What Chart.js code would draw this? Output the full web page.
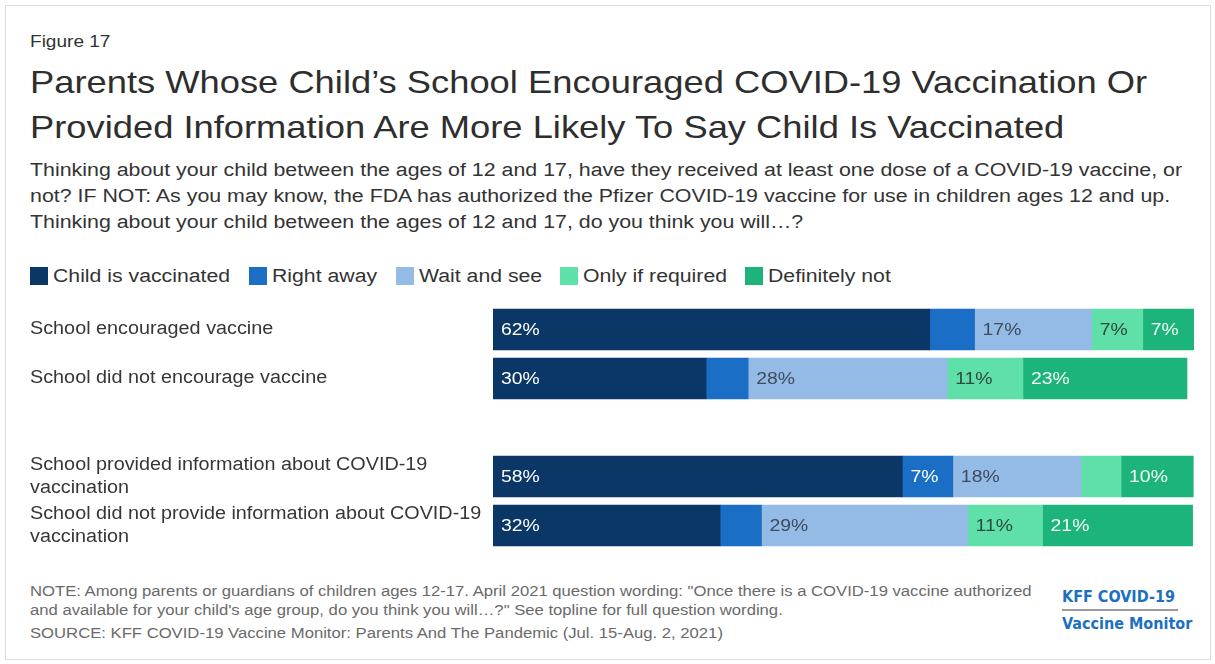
<!DOCTYPE html>
<html>
<head>
<meta charset="utf-8">
<script src="https://cdn.jsdelivr.net/npm/chart.js@4.4.0/dist/chart.umd.min.js"></script>
<style>
  body { margin: 0; background: #fff; font-family: "Liberation Sans", Arial, sans-serif; color: #333; }
  #page { position: relative; width: 1215px; height: 664px; overflow: hidden; }
  #frame { position: absolute; left: 5px; top: 5px; width: 1204px; height: 653px; border: 1px solid #dcdcdc; }
  .txt { position: absolute; left: 30px; white-space: nowrap; transform-origin: 0 0; }
  #fig { top: 32px; font-size: 17px; color: #333; transform: scaleX(1.12); }
  #title { top: 60px; font-size: 32px; line-height: 45px; color: #2e2e2e; transform: scaleX(1.135); }
  #sub { top: 157px; font-size: 18px; line-height: 26px; color: #333; transform: scaleX(1.187); }
  .sw { position: absolute; top: 267px; width: 18px; height: 18px; }
  .lt { position: absolute; top: 265px; font-size: 18px; line-height: 22px; color: #333; white-space: nowrap; transform-origin: 0 0; transform: scaleX(1.18); }
  #note { top: 582px; font-size: 14px; line-height: 19px; color: #6a6a6a; transform: scaleX(1.19); }
  #src { top: 625px; font-size: 14px; color: #6a6a6a; transform: scaleX(1.19); }
  #logo { position: absolute; left: 1062px; top: 587px; font-family: "DejaVu Sans Condensed", "DejaVu Sans", sans-serif; font-weight: bold; font-size: 16px; color: #1d6fc0; line-height: 20px; }
  #logo .rule { width: 116px; height: 2px; background: #9a9a9a; margin: 2px 0 3px 0; }
  #chartBox { position: absolute; left: 30px; top: 300px; }
</style>
</head>
<body>
<div id="page">
  <div id="frame"></div>
  <div class="txt" id="fig">Figure 17</div>
  <div class="txt" id="title">Parents Whose Child’s School Encouraged COVID-19 Vaccination Or<br>Provided Information Are More Likely To Say Child Is Vaccinated</div>
  <div class="txt" id="sub">Thinking about your child between the ages of 12 and 17, have they received at least one dose of a COVID-19 vaccine, or<br>not? IF NOT: As you may know, the FDA has authorized the Pfizer COVID-19 vaccine for use in children ages 12 and up.<br>Thinking about your child between the ages of 12 and 17, do you think you will…?</div>
  <div id="legend"></div>
  <div id="chartBox"><canvas id="chart" width="1175" height="256"></canvas></div>
  <div class="txt" id="note">NOTE: Among parents or guardians of children ages 12-17. April 2021 question wording: "Once there is a COVID-19 vaccine authorized<br>and available for your child's age group, do you think you will…?" See topline for full question wording.</div>
  <div class="txt" id="src">SOURCE: KFF COVID-19 Vaccine Monitor: Parents And The Pandemic (Jul. 15-Aug. 2, 2021)</div>
  <div id="logo">KFF COVID-19<div class="rule"></div>Vaccine Monitor</div>
</div>
<script>
const categories = [
  ['School encouraged vaccine'],
  ['School did not encourage vaccine'],
  [],
  ['School provided information about COVID-19', 'vaccination'],
  ['School did not provide information about COVID-19', 'vaccination']
];

const seriesNames = ['Child is vaccinated', 'Right away', 'Wait and see', 'Only if required', 'Definitely not'];

const childVaccinated = [62.3, 30.4, null, 58.4, 32.4];
const rightAway = [6.4, 6.0, null, 7.2, 5.9];
const waitAndSee = [16.7, 28.4, null, 18.3, 29.4];
const onlyIfRequired = [7.3, 10.8, null, 5.7, 10.7];
const definitelyNot = [7.3, 23.4, null, 10.3, 21.4];

const seriesColors = ['#0a3766', '#1a6ec6', '#93bbe6', '#5fe0a8', '#1cb47b'];
const labelColors = ['#ffffff', '#ffffff', '#3d4c5e', '#2f4a40', '#f2fbf6'];

const seriesValues = [childVaccinated, rightAway, waitAndSee, onlyIfRequired, definitelyNot];

// legend (html), left edges of the swatches
const legendX = [30, 249, 396, 560, 745];
const legendEl = document.getElementById('legend');
seriesNames.forEach((name, i) => {
  const sw = document.createElement('span');
  sw.className = 'sw';
  sw.style.left = legendX[i] + 'px';
  sw.style.background = seriesColors[i];
  const t = document.createElement('span');
  t.className = 'lt';
  t.style.left = (legendX[i] + 23) + 'px';
  t.textContent = name;
  legendEl.appendChild(sw);
  legendEl.appendChild(t);
});

const FONT = '"Liberation Sans", Arial, sans-serif';

// category labels, drawn a bit wider like the original
const catLabels = {
  id: 'catLabels',
  afterDraw(chart) {
    const ctx = chart.ctx;
    const y = chart.scales.y;
    ctx.save();
    ctx.font = '18px ' + FONT;
    ctx.fillStyle = '#363636';
    ctx.textBaseline = 'middle';
    categories.forEach((lines, i) => {
      const cy = y.getPixelForValue(i);
      lines.forEach((line, k) => {
        const ly = cy + (k - (lines.length - 1) / 2) * 23;
        ctx.save();
        ctx.translate(y.left, ly);
        ctx.scale(1.1, 1);
        ctx.fillText(line, 0, 0);
        ctx.restore();
      });
    });
    ctx.restore();
  }
};

// percent labels inside the bars
const barLabels = {
  id: 'barLabels',
  afterDatasetsDraw(chart) {
    const ctx = chart.ctx;
    ctx.save();
    ctx.font = '17px ' + FONT;
    ctx.textBaseline = 'middle';
    chart.data.datasets.forEach((ds, i) => {
      const meta = chart.getDatasetMeta(i);
      meta.data.forEach((bar, j) => {
        const v = ds.data[j];
        if (v == null || v < 7) return;
        ctx.fillStyle = labelColors[i];
        ctx.save();
        ctx.translate(Math.min(bar.base, bar.x) + 8, bar.y + 1);
        ctx.scale(1.14, 1);
        ctx.fillText(Math.round(v) + '%', 0, 0);
        ctx.restore();
      });
    });
    ctx.restore();
  }
};

new Chart(document.getElementById('chart'), {
  type: 'bar',
  data: {
    labels: categories.map((c) => c.join(' ')),
    datasets: seriesNames.map((name, i) => ({
      label: name,
      data: seriesValues[i],
      backgroundColor: seriesColors[i],
      borderWidth: 0,
      barThickness: 41,
    })),
  },
  options: {
    indexAxis: 'y',
    responsive: false,
    animation: false,
    devicePixelRatio: 1,
    layout: { padding: { top: 5, bottom: 6, left: 0, right: 11 } },
    plugins: { legend: { display: false }, tooltip: { enabled: false } },
    scales: {
      x: { stacked: true, min: 0, max: 100, display: false },
      y: {
        stacked: true,
        grid: { display: false },
        border: { display: false },
        ticks: { display: false },
        afterFit: (scale) => {
          scale.width = 463;
          scale.paddingTop = 0;
          scale.paddingBottom = 0;
        },
      },
    },
  },
  plugins: [barLabels, catLabels],
});
</script>
</body>
</html>
